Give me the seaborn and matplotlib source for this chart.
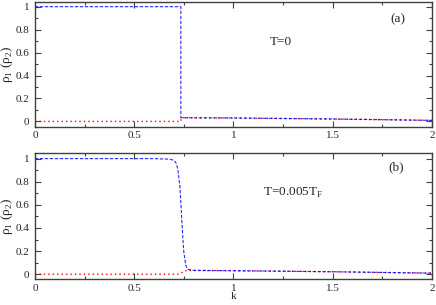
import numpy as np
import pandas as pd
import matplotlib
matplotlib.use('Agg')
import matplotlib.pyplot as plt
from matplotlib.ticker import MultipleLocator
import seaborn as sns

# panel (a): T=0, sharp step at k_F
k_a = [0.0, 0.5, 0.735, 0.735, 1.0, 1.5, 2.0]
rho1_a = [1.0, 1.0, 1.0, 0.032, 0.030, 0.021, 0.009]
rho2_a = [0.0, 0.0, 0.0, 0.032, 0.030, 0.021, 0.009]

# panel (b): T=0.005 T_F, smoothed step
k_b = [0.0, 0.6, 0.68, 0.70, 0.71, 0.72, 0.73, 0.735, 0.74, 0.745, 0.75,
       0.76, 0.77, 0.8, 1.0, 1.5, 2.0]
rho1_b = [1.0, 1.0, 0.995, 0.985, 0.965, 0.91, 0.76, 0.62, 0.46, 0.31, 0.19,
          0.075, 0.042, 0.033, 0.030, 0.021, 0.009]
rho2_b = [0.0, 0.0, 0.0, 0.0, 0.0, 0.001, 0.004, 0.008, 0.014, 0.020, 0.025,
          0.030, 0.031, 0.032, 0.030, 0.021, 0.009]

panels = [
    (k_a, rho1_a, rho2_a, 'T=0', (0.592, 0.68), '(a)', (0.894, 0.856)),
    (k_b, rho1_b, rho2_b, r'T=0.005T$_\mathregular{F}$', (0.574, 0.685), '(b)', (0.89, 0.89)),
]

sns.set_style('ticks')
plt.rcParams['font.family'] = ['Liberation Serif', 'DejaVu Serif']
plt.rcParams['mathtext.fontset'] = 'custom'
plt.rcParams['mathtext.rm'] = 'Liberation Serif'

fig = plt.figure(figsize=(4.36, 3.05), dpi=100)
axes = [fig.add_axes([0.080, 0.585, 0.911, 0.410]),
        fig.add_axes([0.080, 0.084, 0.911, 0.413])]

edge = '#404040'
for ax, (k, r1, r2, label, pos, tag, tpos) in zip(axes, panels):
    df = pd.DataFrame({'k': k, 'rho1': r1, 'rho2': r2})
    sns.lineplot(data=df, x='k', y='rho2', ax=ax, estimator=None, sort=False,
                 color='red', linestyle=(0, (1, 2.2)), linewidth=1.0)
    sns.lineplot(data=df, x='k', y='rho1', ax=ax, estimator=None, sort=False,
                 color='blue', linestyle=(0, (3, 1.5)), linewidth=0.8, alpha=0.85)
    ax.set_xlim(0, 2)
    ax.set_ylim(-0.045, 1.045)
    ax.xaxis.set_minor_locator(MultipleLocator(0.25))
    ax.yaxis.set_minor_locator(MultipleLocator(0.1))
    ax.set_yticks([0, 0.2, 0.4, 0.6, 0.8, 1.0])
    ax.set_yticklabels(['0', '0.2', '0.4', '0.6', '0.8', '1'])
    ax.set_xticks([0, 0.5, 1, 1.5, 2])
    ax.set_xticklabels(['0', '0.5', '1', '1.5', '2'])
    ax.tick_params(which='both', direction='in', top=True, right=True,
                   labelsize=8, color=edge, width=0.8, pad=4)
    ax.tick_params(axis='x', pad=3)
    ax.tick_params(which='major', length=4)
    ax.tick_params(which='minor', length=2)
    for s in ax.spines.values():
        s.set_color(edge)
        s.set_linewidth(1.0)
    ax.set_ylabel('\u03c1$_\\mathregular{1}$ (\u03c1$_\\mathregular{2}$)', fontsize=9.5)
    ax.yaxis.set_label_coords(-0.049, 0.5)
    ax.set_xlabel('')
    ax.text(pos[0], pos[1], label, transform=ax.transAxes, fontsize=9.5, va='center')
    ax.text(tpos[0], tpos[1], tag, transform=ax.transAxes, fontsize=9.5, va='center')

axes[1].set_xlabel('k', fontsize=8, labelpad=-0.5)

fig.savefig('out.png', dpi=100)
